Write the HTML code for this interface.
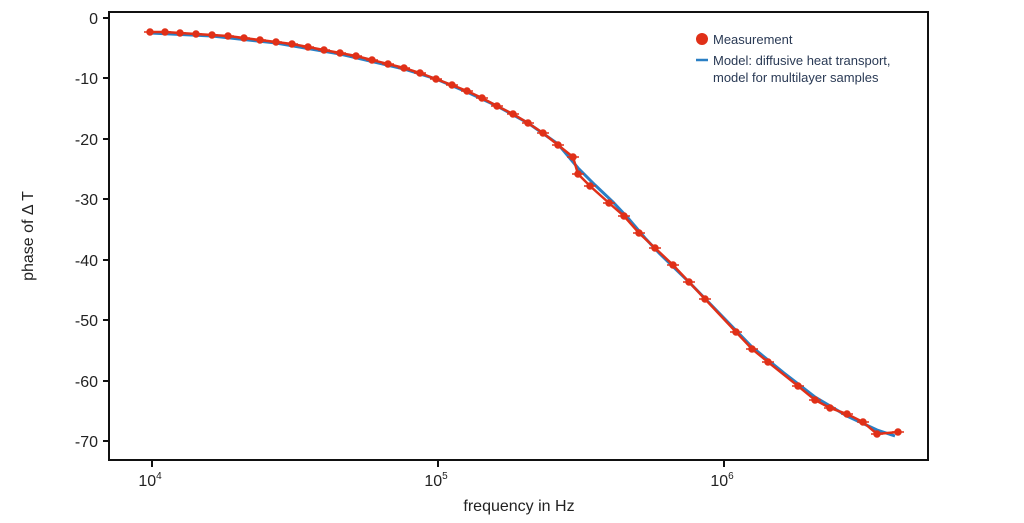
<!DOCTYPE html>
<html><head><style>body{margin:0;background:#fff}svg{display:block}text{font-family:"Liberation Sans",sans-serif}</style></head>
<body>
<svg width="1024" height="523" viewBox="0 0 1024 523">
<rect x="109" y="12" width="819" height="448" fill="none" stroke="#111" stroke-width="2"/>
<g stroke="#111" stroke-width="2">
<line x1="103" y1="18" x2="109" y2="18"/><line x1="103" y1="78" x2="109" y2="78"/><line x1="103" y1="139" x2="109" y2="139"/><line x1="103" y1="199" x2="109" y2="199"/><line x1="103" y1="260" x2="109" y2="260"/><line x1="103" y1="320" x2="109" y2="320"/><line x1="103" y1="381" x2="109" y2="381"/><line x1="103" y1="441" x2="109" y2="441"/>
<line x1="152" y1="460" x2="152" y2="467"/><line x1="438" y1="460" x2="438" y2="467"/><line x1="724" y1="460" x2="724" y2="467"/>
</g>
<g font-size="16" fill="#222" text-anchor="end">
<text x="98" y="24">0</text><text x="98" y="84">-10</text><text x="98" y="145">-20</text><text x="98" y="205">-30</text><text x="98" y="266">-40</text><text x="98" y="326">-50</text><text x="98" y="387">-60</text><text x="98" y="447">-70</text>
</g>
<g font-size="16" fill="#222" text-anchor="middle">
<text x="150" y="486">10<tspan font-size="10" dy="-7">4</tspan></text>
<text x="436" y="486">10<tspan font-size="10" dy="-7">5</tspan></text>
<text x="722" y="486">10<tspan font-size="10" dy="-7">6</tspan></text>
<text x="519" y="511">frequency in Hz</text>
</g>
<text transform="translate(33,236) rotate(-90)" font-size="16" fill="#222" text-anchor="middle">phase of Δ T</text>
<polyline fill="none" stroke="#2a7fc4" stroke-width="3" points="150,33 212,36 276,43 340,54 404,69 436,79 467,92 497,106 528,123 558,144 578,168 595,185 613,202 628,218 645,238 660,254 689,282 720,314 752,347 784,373 815,397 847,416 877,430 895,436"/>
<polyline fill="none" stroke="#e03018" stroke-width="2.5" points="150,32 165,32 180,33 196,34 212,35 228,36 244,38 260,40 276,42 292,44 308,47 324,50 340,53 356,56 372,60 388,64 404,68 420,73 436,79 452,85 467,91 482,98 497,106 513,114 528,123 543,133 558,145 573,157 578,174 590,186 609,203 624,216 639,233 655,248 673,265 689,282 705,299 736,332 752,349 768,362 798,386 815,400 830,408 847,414 863,422 877,434 898,432"/>
<g font-size="13" fill="#2a3a55">
<circle cx="702" cy="39" r="6" fill="#e03018"/>
<text x="713" y="44">Measurement</text>
<line x1="696" y1="60" x2="708" y2="60" stroke="#2a7fc4" stroke-width="2.5"/>
<text x="713" y="65">Model: diffusive heat transport,</text>
<text x="713" y="82">model for multilayer samples</text>
</g>
<g fill="#e03018" stroke="#e03018" stroke-width="1.5">
<path d="M144 32h12M159 32h12M174 33h12M190 34h12M206 35h12M222 36h12M238 38h12M254 40h12M270 42h12M286 44h12M302 47h12M318 50h12M334 53h12M350 56h12M366 60h12M382 64h12M398 68h12M414 73h12M430 79h12M446 85h12M461 91h12M476 98h12M491 106h12M507 114h12M522 123h12M537 133h12M552 145h12M567 157h12M572 174h12M584 186h12M603 203h12M618 216h12M633 233h12M649 248h12M667 265h12M683 282h12M699 299h12M730 332h12M746 349h12M762 362h12M792 386h12M809 400h12M824 408h12M841 414h12M857 422h12M871 434h12M892 432h12"/>
<circle cx="150" cy="32" r="3"/><circle cx="165" cy="32" r="3"/><circle cx="180" cy="33" r="3"/><circle cx="196" cy="34" r="3"/><circle cx="212" cy="35" r="3"/><circle cx="228" cy="36" r="3"/><circle cx="244" cy="38" r="3"/><circle cx="260" cy="40" r="3"/><circle cx="276" cy="42" r="3"/><circle cx="292" cy="44" r="3"/><circle cx="308" cy="47" r="3"/><circle cx="324" cy="50" r="3"/><circle cx="340" cy="53" r="3"/><circle cx="356" cy="56" r="3"/><circle cx="372" cy="60" r="3"/><circle cx="388" cy="64" r="3"/><circle cx="404" cy="68" r="3"/><circle cx="420" cy="73" r="3"/><circle cx="436" cy="79" r="3"/><circle cx="452" cy="85" r="3"/><circle cx="467" cy="91" r="3"/><circle cx="482" cy="98" r="3"/><circle cx="497" cy="106" r="3"/><circle cx="513" cy="114" r="3"/><circle cx="528" cy="123" r="3"/><circle cx="543" cy="133" r="3"/><circle cx="558" cy="145" r="3"/><circle cx="573" cy="157" r="3"/><circle cx="578" cy="174" r="3"/><circle cx="590" cy="186" r="3"/><circle cx="609" cy="203" r="3"/><circle cx="624" cy="216" r="3"/><circle cx="639" cy="233" r="3"/><circle cx="655" cy="248" r="3"/><circle cx="673" cy="265" r="3"/><circle cx="689" cy="282" r="3"/><circle cx="705" cy="299" r="3"/><circle cx="736" cy="332" r="3"/><circle cx="752" cy="349" r="3"/><circle cx="768" cy="362" r="3"/><circle cx="798" cy="386" r="3"/><circle cx="815" cy="400" r="3"/><circle cx="830" cy="408" r="3"/><circle cx="847" cy="414" r="3"/><circle cx="863" cy="422" r="3"/><circle cx="877" cy="434" r="3"/><circle cx="898" cy="432" r="3"/>
</g>
</svg>
</body></html>
